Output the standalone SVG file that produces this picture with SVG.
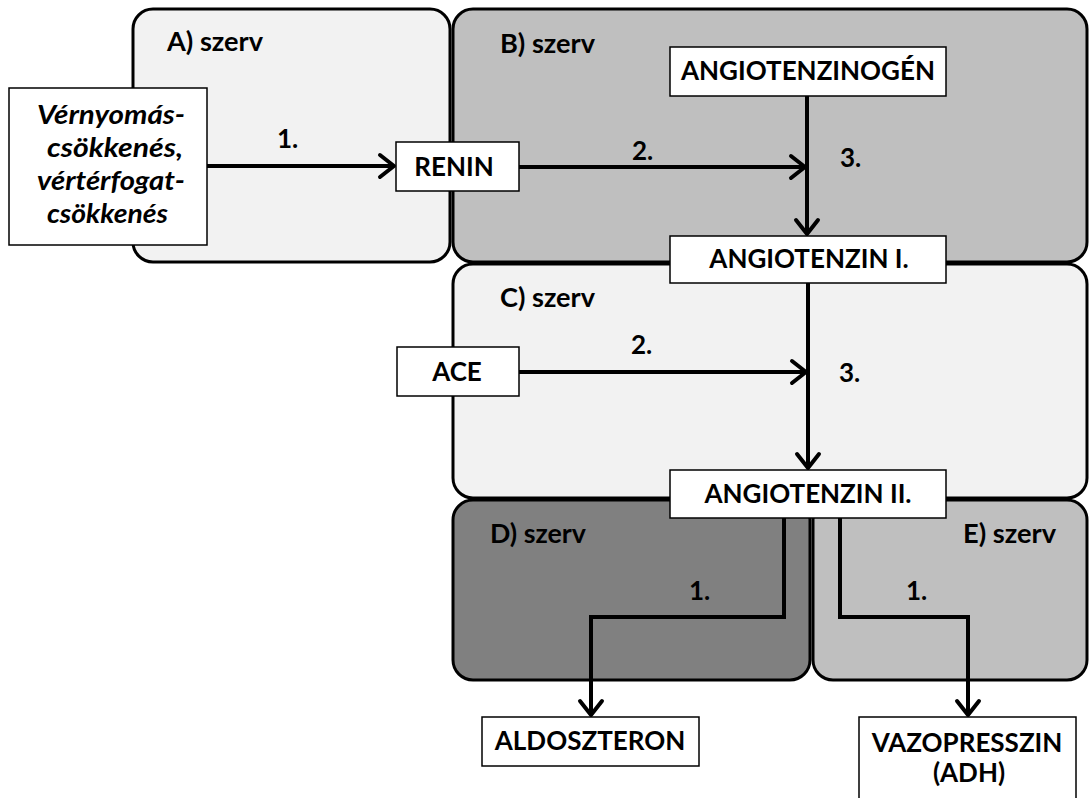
<svg xmlns="http://www.w3.org/2000/svg" width="1089" height="798" viewBox="0 0 1089 798">
<style>
.region{stroke:#000;stroke-width:3}
.box{fill:#fff;stroke:#000;stroke-width:1.5}
.t{font-family:Lato,"Liberation Sans",sans-serif;font-weight:bold;font-size:26px;fill:#000}
.c{text-anchor:middle}
.it{font-style:italic}
.conn{fill:none;stroke:#000;stroke-width:4;stroke-linejoin:miter}
</style>
<defs>
<marker id="arr" markerUnits="userSpaceOnUse" viewBox="-20 -15 24 30" refX="0" refY="0" markerWidth="24" markerHeight="30" orient="auto">
<path d="M-14,-11 L0,0 L-14,11" fill="none" stroke="#000" stroke-width="4" stroke-linejoin="round" stroke-linecap="round"/>
</marker>
</defs>
<rect width="1089" height="798" fill="#fff"/>
<g id="regions">
<g id="organ-A"><rect class="region" x="133" y="9" width="317" height="253" rx="20" fill="#f2f2f2"/><text class="t" x="167" y="51" textLength="96" lengthAdjust="spacingAndGlyphs">A) szerv</text></g>
<g id="organ-B"><rect class="region" x="453" y="9" width="634" height="253" rx="20" fill="#bfbfbf"/><text class="t" x="500" y="53" textLength="95" lengthAdjust="spacingAndGlyphs">B) szerv</text></g>
<g id="organ-C"><rect class="region" x="453" y="264" width="634" height="234" rx="20" fill="#f2f2f2"/><text class="t" x="500" y="307" textLength="95" lengthAdjust="spacingAndGlyphs">C) szerv</text></g>
<g id="organ-D"><rect class="region" x="453" y="500" width="357" height="180" rx="20" fill="#808080"/><text class="t" x="490" y="543" textLength="96" lengthAdjust="spacingAndGlyphs">D) szerv</text></g>
<g id="organ-E"><rect class="region" x="813" y="500" width="274" height="180" rx="20" fill="#bfbfbf"/><text class="t" x="963" y="543" textLength="93" lengthAdjust="spacingAndGlyphs">E) szerv</text></g>
</g>
<g id="connectors">
<path class="conn" d="M207,166 H394" marker-end="url(#arr)"/>
<path class="conn" d="M519,167 H805" marker-end="url(#arr)"/>
<path class="conn" d="M807,96 V234" marker-end="url(#arr)"/>
<path class="conn" d="M519,372 H806" marker-end="url(#arr)"/>
<path class="conn" d="M808,283 V468" marker-end="url(#arr)"/>
<path class="conn" d="M784,518 V617 H591 V715" marker-end="url(#arr)"/>
<path class="conn" d="M840,518 V617 H968 V715" marker-end="url(#arr)"/>
<text class="t" x="277" y="148">1.</text>
<text class="t" x="632" y="160">2.</text>
<text class="t" x="840" y="167">3.</text>
<text class="t" x="631" y="354">2.</text>
<text class="t" x="839" y="382">3.</text>
<text class="t" x="689" y="600">1.</text>
<text class="t" x="906" y="600">1.</text>
</g>
<g id="node-stimulus"><rect class="box" x="9" y="88" width="198" height="157"/>
<text class="t it" x="37" y="124" textLength="148" lengthAdjust="spacingAndGlyphs">Vérnyomás-</text>
<text class="t it" x="47" y="157" textLength="136" lengthAdjust="spacingAndGlyphs">csökkenés,</text>
<text class="t it" x="37" y="190" textLength="148" lengthAdjust="spacingAndGlyphs">vértérfogat-</text>
<text class="t it" x="47" y="223" textLength="121" lengthAdjust="spacingAndGlyphs">csökkenés</text></g>
<g id="node-renin"><rect class="box" x="396" y="142" width="123" height="49"/><text class="t c" x="454" y="176">RENIN</text></g>
<g id="node-angiotenzinogen"><rect class="box" x="670" y="47" width="276" height="49"/><text class="t c" x="808" y="80">ANGIOTENZINOGÉN</text></g>
<g id="node-angiotenzin1"><rect class="box" x="670" y="236" width="276" height="47"/><text class="t c" x="809" y="268">ANGIOTENZIN I.</text></g>
<g id="node-ace"><rect class="box" x="397" y="347" width="122" height="49"/><text class="t c" x="457" y="381">ACE</text></g>
<g id="node-angiotenzin2"><rect class="box" x="670" y="470" width="276" height="48"/><text class="t c" x="808" y="503">ANGIOTENZIN II.</text></g>
<g id="node-aldoszteron"><rect class="box" x="482" y="717" width="217" height="49"/><text class="t c" x="590" y="750">ALDOSZTERON</text></g>
<g id="node-vazopresszin"><rect class="box" x="859" y="717" width="217" height="90"/><text class="t c" x="967" y="752">VAZOPRESSZIN</text><text class="t c" x="969" y="782">(ADH)</text></g>
</svg>
